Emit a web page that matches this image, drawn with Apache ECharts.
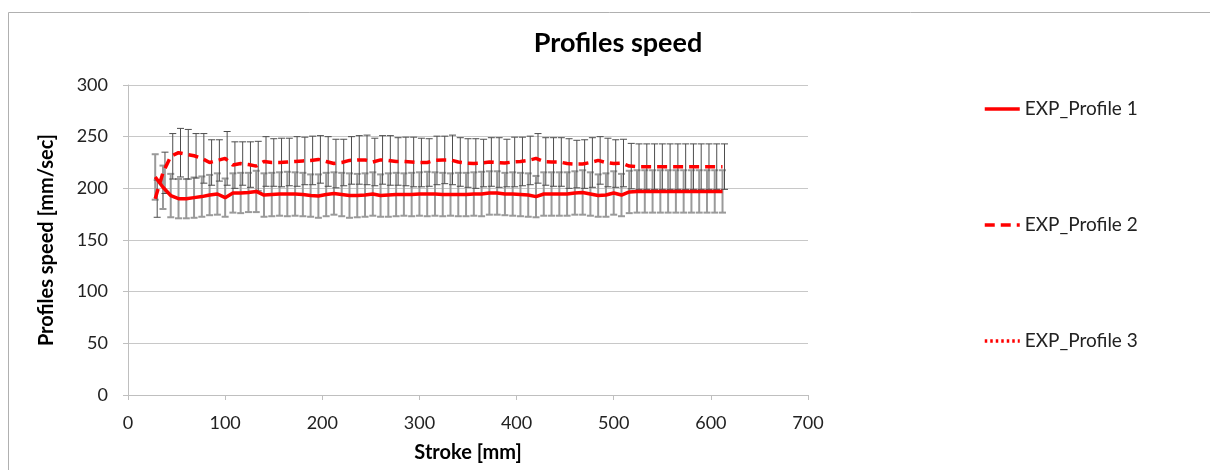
<!DOCTYPE html>
<html>
<head>
<meta charset="utf-8">
<script src="https://cdn.jsdelivr.net/npm/echarts@6/dist/echarts.min.js"></script>
<style>
  html, body { margin: 0; padding: 0; background: #fff; }
  #chart { width: 1210px; height: 470px; }
</style>
</head>
<body>
<div id="chart"></div>
<script>
// stroke positions [mm]
var strokeMm = [28, 36, 44, 52, 60, 68, 76, 84, 92, 100, 108, 116, 124, 132, 140, 148, 156, 164, 172, 180,
  188, 196, 204, 212, 220, 228, 236, 244, 252, 260, 268, 276, 284, 292, 300, 308, 316, 324, 332, 340,
  348, 356, 364, 372, 380, 388, 396, 404, 412, 420, 428, 436, 444, 452, 460, 468, 476, 484, 492, 500,
  508, 516, 524, 532, 540, 548, 556, 564, 572, 580, 588, 596, 604, 612]

var profile1 = [211, 201, 193, 190, 190, 191, 192, 193.5, 194.5, 191, 195.5, 195.5, 196, 197, 193.5, 194, 194.5, 194.5, 194.5, 194,
  193, 192.5, 194, 195, 194, 193, 193, 193.5, 194.5, 193, 193.5, 194, 194, 194, 194.5, 194.5, 194.5, 194, 194, 194,
  194, 194.5, 194.5, 195.5, 195.5, 194.5, 194.5, 194, 193.5, 192, 194.5, 194.5, 194.5, 194.5, 195.5, 196, 194.5, 193, 193.5, 195.5,
  193.5, 196.5, 197, 197, 197, 197, 197, 197, 197, 197, 197, 197, 197, 197]

var profile2 = [190, 215, 231, 234.5, 233, 231.5, 229, 225, 227, 229, 222.5, 224, 223, 221.5, 226, 225, 225, 225.5, 226, 226.5,
  227, 228, 226, 224, 225, 227, 227.5, 227.5, 225.5, 227.5, 227, 226, 226, 225.5, 225, 225, 227, 227.5, 227.5, 225.5,
  224.5, 224, 224.5, 225.5, 225, 224.5, 225.5, 226, 227, 229, 226, 225.5, 225.5, 224, 223.5, 223.5, 225, 227, 225, 224,
  224.5, 221.5, 221, 221, 221, 221, 221, 221, 221, 221, 221, 221, 221, 221]

var profile3 = []

// +/- error for each point
var err1 = [22, 21, 21, 19, 19, 19.5, 19.5, 19.5, 20, 18.5, 19, 19.5, 19, 20, 21, 21, 21, 21.5, 21, 21,
  20.5, 21, 21, 20.5, 21, 21.5, 21, 21, 21, 20.5, 21, 21, 20.5, 21, 21, 21.5, 21, 21, 20.5, 21,
  21, 21, 21.5, 21, 21, 20.5, 21, 21, 21, 20, 21, 21, 21, 21, 21, 21.5, 21, 20.5, 21, 21,
  20.5, 20.5, 20.5, 20.5, 20.5, 20.5, 20.5, 20.5, 20.5, 20.5, 20.5, 20.5, 20.5, 20.5]

var err2 = [18, 20, 22, 23.5, 24, 21.5, 24, 22, 20, 26, 22.5, 21, 22, 24, 24, 23, 23.5, 23, 24, 23,
  23.5, 23, 24, 23.5, 22.5, 23, 23.5, 24, 23, 23.5, 24, 23, 23.5, 24, 23.5, 23, 23.5, 23, 24, 23.5,
  23.5, 24, 23, 23.5, 24, 23, 24, 23.5, 23.5, 24, 23, 23.5, 23.5, 24, 23, 23.5, 24, 23, 23.5, 23,
  23, 22, 22, 22, 22, 22, 22, 22, 22, 22, 22, 22, 22, 22]

var names = ['EXP_Profile 1', 'EXP_Profile 2', 'EXP_Profile 3']
var font = 'Lato, "Open Sans", sans-serif'

function pairs (ys) {
  return ys.map(function (y, i) { return [strokeMm[i], y] })
}

function errRows (ys, es) {
  return ys.map(function (y, i) { return [strokeMm[i], y - es[i], y + es[i]] })
}

function errBar (color, width, shift) {
  return function (params, api) {
    var lo = api.coord([api.value(0), api.value(1)])
    var hi = api.coord([api.value(0), api.value(2)])
    var x = lo[0] + shift
    var cap = 3.5
    var st = { stroke: color, lineWidth: width }
    return {
      type: 'group',
      children: [
        { type: 'line', shape: { x1: x, y1: lo[1], x2: x, y2: hi[1] }, style: st },
        { type: 'line', shape: { x1: x - cap, y1: lo[1], x2: x + cap, y2: lo[1] }, style: st },
        { type: 'line', shape: { x1: x - cap, y1: hi[1], x2: x + cap, y2: hi[1] }, style: st }
      ]
    }
  }
}

var chart = echarts.init(document.getElementById('chart'))

chart.setOption({
  animation: false,
  textStyle: { fontFamily: font },
  graphic: [{
    type: 'rect',
    shape: { x: 8.5, y: 12.5, width: 1220, height: 500 },
    style: { fill: 'none', stroke: '#b0b0b0', lineWidth: 1 }
  }],
  title: {
    text: 'Profiles speed',
    left: 613,
    textAlign: 'center',
    top: 25,
    textStyle: { fontFamily: font, fontSize: 27, fontWeight: 'bold', color: '#000' }
  },
  legend: {
    orient: 'vertical',
    left: 978,
    top: 94,
    itemWidth: 35,
    itemHeight: 14,
    itemGap: 96,
    data: names,
    itemStyle: { opacity: 0 },
    lineStyle: { width: 3.5 },
    textStyle: { fontFamily: font, fontSize: 19, lineHeight: 20, color: '#222' }
  },
  grid: { left: 128, right: 402, top: 85, bottom: 75 },
  xAxis: {
    type: 'value',
    min: 0,
    max: 700,
    interval: 100,
    name: 'Stroke [mm]',
    nameLocation: 'middle',
    nameGap: 48,
    nameTextStyle: { fontFamily: font, fontSize: 20, fontWeight: 'bold', color: '#000' },
    axisLine: { show: true, lineStyle: { color: '#bfbfbf' } },
    axisTick: { show: true, length: 5, lineStyle: { color: '#bfbfbf' } },
    axisLabel: { fontFamily: font, fontSize: 18, color: '#222', margin: 19 },
    splitLine: { show: false }
  },
  yAxis: {
    type: 'value',
    min: 0,
    max: 300,
    interval: 50,
    name: 'Profiles speed [mm/sec]',
    nameLocation: 'middle',
    nameGap: 71,
    nameTextStyle: { fontFamily: font, fontSize: 20, fontWeight: 'bold', color: '#000' },
    axisLine: { show: true, lineStyle: { color: '#bfbfbf' } },
    axisTick: { show: true, length: 5, lineStyle: { color: '#bfbfbf' } },
    axisLabel: { fontFamily: font, fontSize: 18, color: '#222', margin: 20 },
    splitLine: { show: true, lineStyle: { color: '#c8c8c8' } }
  },
  series: [
    {
      type: 'custom',
      data: errRows(profile1, err1),
      renderItem: errBar('#9a9a9a', 2, 0),
      encode: { x: 0, y: [1, 2] },
      z: 1,
      silent: true
    },
    {
      type: 'custom',
      data: errRows(profile2, err2),
      renderItem: errBar('#4d4d4d', 1, 2),
      encode: { x: 0, y: [1, 2] },
      z: 1,
      silent: true
    },
    {
      name: names[0],
      type: 'line',
      data: pairs(profile1),
      symbol: 'none',
      z: 3,
      lineStyle: { color: '#ff0000', width: 3.5, type: 'solid' },
      itemStyle: { color: '#ff0000' }
    },
    {
      name: names[1],
      type: 'line',
      data: pairs(profile2),
      symbol: 'none',
      z: 3,
      lineStyle: { color: '#ff0000', width: 3.5, type: [10, 6] },
      itemStyle: { color: '#ff0000' }
    },
    {
      name: names[2],
      type: 'line',
      data: pairs(profile3),
      symbol: 'none',
      z: 3,
      lineStyle: { color: '#ff0000', width: 3, type: [2.5, 3] },
      itemStyle: { color: '#ff0000' }
    }
  ]
})
</script>
</body>
</html>
